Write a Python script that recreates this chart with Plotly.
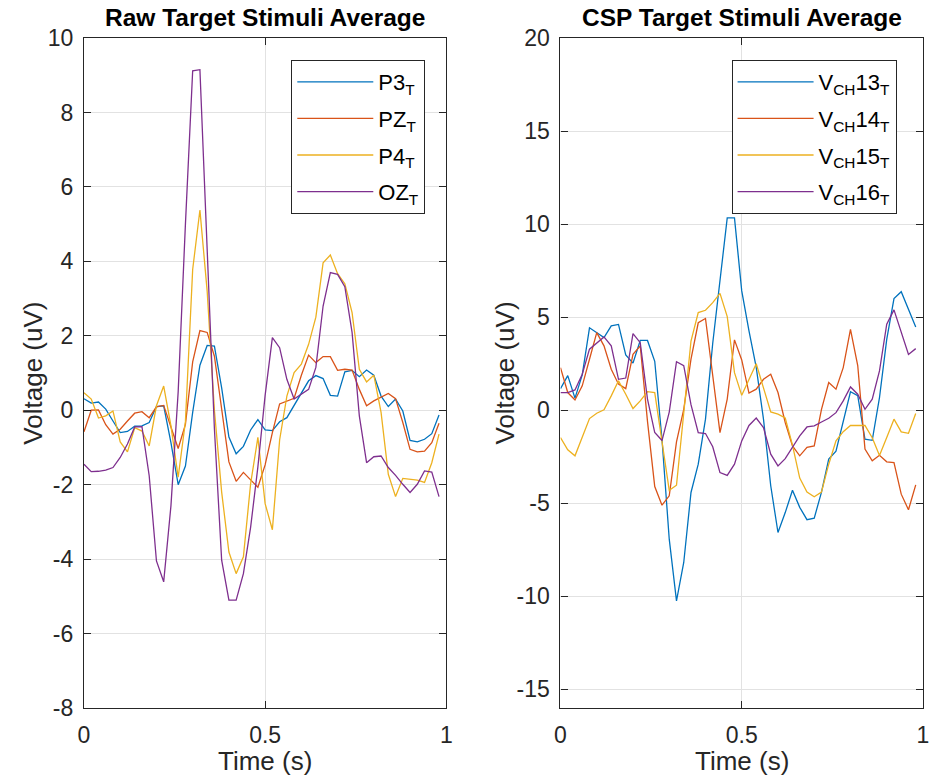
import numpy as np
import plotly.graph_objects as go

# ---------------- data ----------------
time_s = np.round(np.arange(50) * 0.02, 2)

raw_names = ["P3<sub>T</sub>", "PZ<sub>T</sub>", "P4<sub>T</sub>", "OZ<sub>T</sub>"]
p3 = [0.31, 0.19, 0.22, 0.03, -0.29, -0.6, -0.57, -0.43, -0.42, -0.33, 0.1, 0.12, -0.87, -2.0, -1.5,
      -0.06, 1.21, 1.74, 1.72, 0.6, -0.72, -1.17, -0.97, -0.53, -0.25, -0.53, -0.55, -0.31, -0.2, 0.12,
      0.45, 0.79, 0.93, 0.85, 0.4, 0.38, 1.03, 1.07, 0.9, 1.08, 0.94, 0.38, 0.1, 0.3, -0.02, -0.81,
      -0.85, -0.78, -0.63, -0.13]
pz = [-0.58, 0.0, 0.01, -0.39, -0.64, -0.51, -0.29, -0.08, -0.04, -0.2, 0.09, 0.13, -0.45, -1.03, -0.38,
      1.3, 2.14, 2.09, 1.45, 0.1, -1.39, -1.91, -1.67, -1.87, -2.07, -1.47, -0.6, 0.17, 0.24, 0.32,
      0.94, 1.48, 1.28, 1.44, 1.44, 1.07, 1.1, 1.08, 0.56, 0.12, 0.25, 0.36, 0.45, 0.31, -0.33, -1.05,
      -1.12, -1.1, -0.87, -0.35]
p4 = [0.47, 0.3, -0.21, -0.15, -0.02, -0.85, -1.12, -0.47, -0.56, -0.96, 0.12, 0.65, -0.42, -1.8, -0.3,
      3.78, 5.38, 3.2, 0.0, -2.2, -3.81, -4.39, -3.94, -1.97, -0.73, -2.51, -3.21, -0.8, 0.38, 1.01,
      1.24, 1.77, 2.5, 3.96, 4.17, 3.67, 3.4, 2.62, 1.1, 0.76, 0.94, -0.06, -1.72, -2.32, -1.83, -1.85,
      -1.88, -1.94, -1.41, -0.64]
oz = [-1.45, -1.65, -1.64, -1.61, -1.54, -1.27, -0.91, -0.45, -0.44, -1.76, -4.05, -4.61, -2.57, 0.5, 5.0,
      9.12, 9.15, 4.2, -0.5, -4.03, -5.1, -5.1, -4.39, -3.14, -1.52, 0.4, 1.95, 1.68, 0.83, 0.3,
      0.43, 0.56, 1.15, 2.8, 3.7, 3.65, 3.32, 2.09, -0.15, -1.41, -1.25, -1.23, -1.54, -1.75, -1.99,
      -2.21, -1.99, -1.63, -1.66, -2.32]

csp_names = ["V<sub>CH</sub>13<sub>T</sub>", "V<sub>CH</sub>14<sub>T</sub>",
             "V<sub>CH</sub>15<sub>T</sub>", "V<sub>CH</sub>16<sub>T</sub>"]
vch13 = [1.16, 1.86, 0.65, 1.9, 4.43, 4.17, 3.9, 4.53, 4.61, 2.97, 2.53, 3.75, 3.75, 2.63, -1.56,
         -6.93, -10.24, -8.18, -4.42, -2.9, -0.48, 3.6, 7.0, 10.33, 10.33, 6.41, 4.26, 2.3, -0.48, -4.06,
         -6.57, -5.5, -4.3, -5.22, -5.88, -5.8, -4.4, -2.63, -2.2, -0.66, 0.99, 0.78, -1.56, -1.62, 0.68,
         3.81, 6.0, 6.37, 5.42, 4.47]
vch14 = [2.29, 0.95, 0.55, 1.31, 2.74, 4.17, 3.46, 2.2, 1.4, 1.16, 3.0, 3.46, -0.6, -4.1, -5.1,
         -4.6, -1.7, 0.05, 2.74, 4.7, 4.93, 2.0, -1.2, 0.6, 3.78, 2.7, 0.92, 1.13, 1.66, 1.93,
         0.95, -0.66, -1.92, -2.45, -2.0, -1.92, 0.05, 1.49, 1.13, 2.29, 4.35, 2.4, -2.09, -2.72, -2.42,
         -2.77, -2.81, -4.51, -5.35, -4.01]
vch15 = [-1.47, -2.13, -2.45, -1.47, -0.45, -0.16, 0.02, 0.77, 1.58, 0.86, 0.09, 0.5, 1.0, 0.95, -1.7,
         -4.3, -4.03, 0.0, 3.72, 5.25, 5.37, 5.78, 6.28, 5.03, 2.02, 0.8, 1.7, 2.5, 1.2, -0.09,
         -0.21, -0.42, -1.87, -3.65, -4.39, -4.65, -4.4, -2.9, -1.65, -1.15, -0.82, -0.8, -0.82, -1.48,
         -2.43, -1.47, -0.48, -1.16, -1.24, -0.18]
vch16 = [0.95, 0.95, 1.09, 1.93, 3.28, 3.6, 3.94, 3.46, 1.66, 1.73, 4.12, 3.63, 0.6, -1.2, -1.63,
         -0.1, 2.61, 2.4, 0.3, -1.2, -1.25, -1.96, -3.35, -3.5, -2.9, -1.65, -0.82, -0.42, -0.93, -2.36,
         -2.99, -2.6, -2.0, -1.38, -0.9, -0.84, -0.63, -0.43, -0.13, 0.5, 1.25, 0.86, 0.05, 0.59,
         2.11, 4.62, 5.39, 4.17, 3.0, 3.31]

x_ticks = [0, 0.5, 1]
x_tick_labels = ["0", "0.5", "1"]
raw_y_ticks = [-8, -6, -4, -2, 0, 2, 4, 6, 8, 10]
csp_y_ticks = [-15, -10, -5, 0, 5, 10, 15, 20]

colors = ["#0072BD", "#D95319", "#EDB120", "#7E2F8E"]

# ---------------- figure ----------------
W, H = 935, 776
MT, MB = 38, 68
FONT = "Liberation Sans, Arial, Helvetica, sans-serif"
AX = "#262626"

fig = go.Figure()
for k, (nm, ys) in enumerate(zip(raw_names, [p3, pz, p4, oz])):
    fig.add_trace(go.Scatter(x=time_s, y=ys, mode="lines", name=nm,
                             line=dict(color=colors[k], width=1.3),
                             xaxis="x", yaxis="y", legend="legend", legendgroup=f"a{k}"))
for k, (nm, ys) in enumerate(zip(csp_names, [vch13, vch14, vch15, vch16])):
    fig.add_trace(go.Scatter(x=time_s, y=ys, mode="lines", name=nm,
                             line=dict(color=colors[k], width=1.3),
                             xaxis="x2", yaxis="y2", legend="legend2", legendgroup=f"b{k}"))

common = dict(showline=True, linecolor=AX, linewidth=1.2, mirror="ticks", ticks="inside",
              ticklen=7, tickcolor=AX, tickwidth=1.2, showgrid=True, gridcolor="#e2e2e2",
              gridwidth=1, zeroline=False,
              tickfont=dict(family=FONT, size=23, color=AX))

L0, L1 = 79, 446
R0, R1 = 561.7, 928.9
fig.update_layout(
    width=W, height=H, autosize=False,
    margin=dict(l=0, r=0, t=MT, b=MB, pad=0),
    paper_bgcolor="white", plot_bgcolor="white",
    font=dict(family=FONT, color=AX),
    xaxis=dict(domain=[L0 / W, L1 / W], range=[0, 1], tickvals=x_ticks,
               ticktext=x_tick_labels, anchor="y", ticklabelstandoff=6, **common),
    yaxis=dict(domain=[0, 1], range=[-8, 10], tickvals=raw_y_ticks,
               ticktext=[str(v) for v in raw_y_ticks],
               anchor="x", ticklabelstandoff=5, **common),
    xaxis2=dict(domain=[R0 / W, R1 / W], range=[0, 1], tickvals=x_ticks,
                ticktext=x_tick_labels, anchor="y2", ticklabelstandoff=6, **common),
    yaxis2=dict(domain=[0, 1], range=[-16, 20], tickvals=csp_y_ticks,
                ticktext=[str(v) for v in csp_y_ticks],
                anchor="x2", ticklabelstandoff=5, **common),
    legend=dict(x=289 / W, y=1 - (60 - MT) / (H - MT - MB), xanchor="left", yanchor="top",
                bgcolor="white", bordercolor=AX, borderwidth=1, itemwidth=76,
                tracegroupgap=5, font=dict(family=FONT, size=22, color="black")),
    legend2=dict(x=735 / W, y=1 - (60 - MT) / (H - MT - MB), xanchor="left", yanchor="top",
                 bgcolor="white", bordercolor=AX, borderwidth=1, itemwidth=76,
                 tracegroupgap=5, font=dict(family=FONT, size=22, color="black")),
    showlegend=True,
)

ann = []
for cx, title in [((L0 + L1) / 2, "Raw Target Stimuli Average"), ((R0 + R1) / 2, "CSP Target Stimuli Average")]:
    ann.append(dict(text=f"<b>{title}</b>", x=cx / W, y=1, xref="paper", yref="paper",
                    xanchor="center", yanchor="bottom", yshift=5, showarrow=False,
                    font=dict(family=FONT, size=24.5, color="black")))
    ann.append(dict(text="Time (s)", x=cx / W, y=0, xref="paper", yref="paper",
                    xanchor="center", yanchor="top", yshift=-36, showarrow=False,
                    font=dict(family=FONT, size=26, color=AX)))
for lx in [27, 505]:
    ann.append(dict(text="Voltage (uV)", x=lx / W, y=0.5, xref="paper", yref="paper",
                    xanchor="center", yanchor="middle", textangle=-90, showarrow=False,
                    font=dict(family=FONT, size=26, color=AX)))
fig.update_layout(annotations=ann)

fig.write_html("out.html")
